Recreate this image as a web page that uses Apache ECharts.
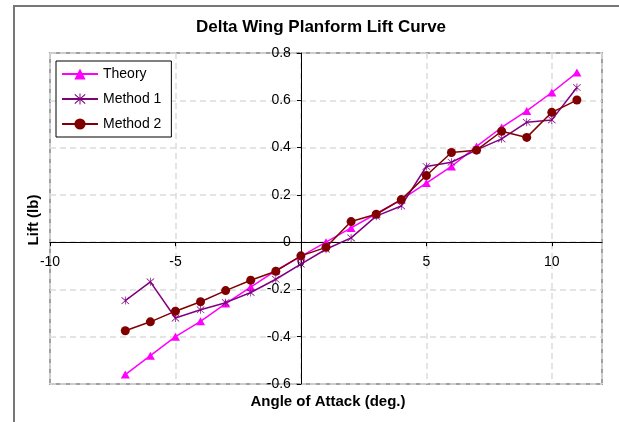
<!DOCTYPE html>
<html>
<head>
<meta charset="utf-8">
<script src="https://cdn.jsdelivr.net/npm/echarts@6/dist/echarts.min.js"></script>
<style>
html,body{margin:0;padding:0;background:#fff;}
#chart{width:619px;height:422px;}
</style>
</head>
<body>
<div id="chart"></div>
<script>
var angles = [-7,-6,-5,-4,-3,-2,-1,0,1,2,3,4,5,6,7,8,9,10,11];
var theory  = [-0.56,-0.48,-0.40,-0.335,-0.26,-0.19,-0.12,-0.06,0.0,0.06,0.12,0.18,0.25,0.32,0.405,0.485,0.555,0.633,0.717];
var method1 = [-0.247,-0.168,-0.321,-0.286,-0.256,-0.213,-0.157,-0.093,-0.03,0.018,0.11,0.153,0.32,0.338,0.39,0.437,0.507,0.517,0.654];
var method2 = [-0.375,-0.337,-0.292,-0.252,-0.205,-0.161,-0.123,-0.058,-0.022,0.087,0.118,0.18,0.282,0.379,0.389,0.469,0.443,0.549,0.601];
var seriesNames = ['Theory','Method 1','Method 2'];
var chartTitle = 'Delta Wing Planform Lift Curve';
var xTitle = 'Angle of Attack (deg.)';
var yTitle = 'Lift (lb)';
var xMin = -10, xMax = 12, xStep = 5;
var yMin = -0.6, yMax = 0.8, yStep = 0.2;

function pairs(xs, ys){ return xs.map(function(x,i){ return [x, ys[i]]; }); }

var W = 619, H = 422;
var G = {left:50, right:17, top:53, bottom:38};
var plotW = W - G.left - G.right, plotH = H - G.top - G.bottom;
// axes cross at zero: shift each axis from its grid edge to the zero of the other
var yAxisOffset = -plotW * (0 - xMin) / (xMax - xMin);
var xAxisOffset = -plotH * (0 - yMin) / (yMax - yMin);

var FONT = '"Liberation Sans", Arial, sans-serif';
var starPath = 'path://M9.2,0 L10.8,0 L10.8,20 L9.2,20 Z M1,2.2 L2.2,1 L19,17.8 L17.8,19 Z M17.8,1 L19,2.2 L2.2,19 L1,17.8 Z';

var chart = echarts.init(document.getElementById('chart'), null, {renderer:'canvas'});

chart.setOption({
  animation:false,
  backgroundColor:'#fff',
  grid:{left:G.left, right:G.right, top:G.top, bottom:G.bottom, show:true, borderColor:'#a0a0a0', borderWidth:2, backgroundColor:'transparent', containLabel:false},
  xAxis:{
    type:'value', min:xMin, max:xMax, interval:xStep, position:'bottom', offset:xAxisOffset,
    axisLine:{onZero:false, lineStyle:{color:'#000', width:1}},
    axisTick:{show:true, length:4, lineStyle:{color:'#000'}},
    splitLine:{show:true, lineStyle:{color:'#dcdcdc', width:1.5, type:[6,4]}},
    axisLabel:{color:'#000', fontSize:14, fontFamily:FONT, margin:13, showMaxLabel:false}
  },
  yAxis:{
    type:'value', min:yMin, max:yMax, interval:yStep, position:'left', offset:yAxisOffset,
    axisLine:{onZero:false, lineStyle:{color:'#000', width:1}},
    axisTick:{show:true, length:4, lineStyle:{color:'#000'}},
    splitLine:{show:true, lineStyle:{color:'#dcdcdc', width:1.5, type:[6,4]}},
    axisLabel:{color:'#000', fontSize:14, fontFamily:FONT, margin:10,
      formatter:function(v){ return String(Math.round(v*10)/10); }}
  },
  legend:{
    orient:'vertical', left:56, top:61,
    data:seriesNames,
    backgroundColor:'#fff', borderColor:'#000', borderWidth:1,
    padding:[6,10,6,5], itemGap:11, itemWidth:36, itemHeight:14,
    textStyle:{color:'#000', fontSize:14, fontFamily:FONT}
  },
  graphic:[
    {type:'rect', shape:{x:14, y:6, width:800, height:600}, style:{fill:'none', stroke:'#777', lineWidth:2}, silent:true, z:-10},
    {type:'text', x:321, y:27, style:{text:chartTitle, font:'bold 17px ' + FONT, fill:'#000', align:'center', verticalAlign:'middle'}},
    {type:'text', x:328, y:402, style:{text:xTitle, font:'bold 15px ' + FONT, fill:'#000', align:'center', verticalAlign:'middle'}},
    {type:'text', x:34, y:220, rotation:Math.PI/2, style:{text:yTitle, font:'bold 15px ' + FONT, fill:'#000', align:'center', verticalAlign:'middle'}}
  ],
  series:[
    {name:seriesNames[0], type:'line', data:pairs(angles, theory),
     symbol:'triangle', symbolSize:[9,8], showAllSymbol:true,
     itemStyle:{color:'#ff00ff'}, lineStyle:{color:'#ff00ff', width:1.5}, z:3},
    {name:seriesNames[1], type:'line', data:pairs(angles, method1),
     symbol:starPath, symbolSize:8, showAllSymbol:true,
     itemStyle:{color:'#800080'}, lineStyle:{color:'#800080', width:1.5}, z:4},
    {name:seriesNames[2], type:'line', data:pairs(angles, method2),
     symbol:'circle', symbolSize:9, showAllSymbol:true,
     itemStyle:{color:'#800000'}, lineStyle:{color:'#800000', width:1.5}, z:5}
  ]
});
</script>
</body>
</html>
